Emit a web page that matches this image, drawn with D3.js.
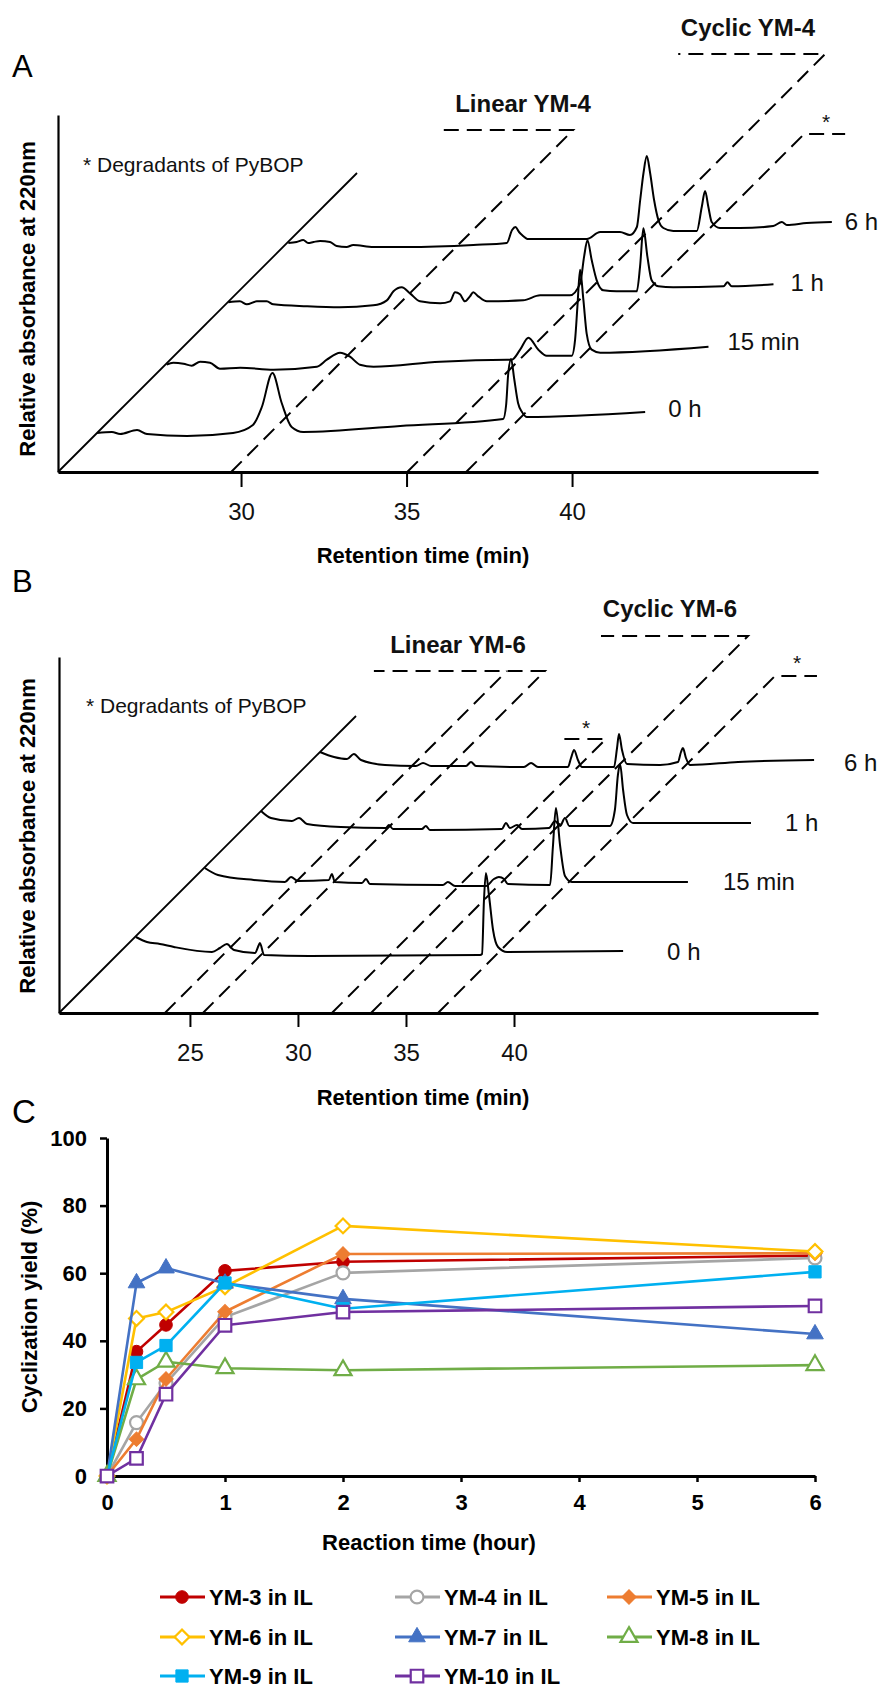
<!DOCTYPE html>
<html><head><meta charset="utf-8">
<script src="https://cdn.jsdelivr.net/npm/d3@7"></script>
<style>
body{margin:0;background:#fff;}
svg{display:block;font-family:"Liberation Sans",Arial,Helvetica,sans-serif;}
</style></head><body>
<svg id="chart" width="882" height="1691"></svg>
<script>
// ---------------- DATA ----------------
// Panel A: HPLC traces of YM-4 cyclization, [retention time (min), relative absorbance]
const aSamples = ["0 h", "15 min", "1 h", "6 h"];
const aTrace0h = [[24.47,0],[24.92,1],[25.17,-1],[25.68,3],[25.98,-1],[27.19,-3],[28.58,0],[29.18,8],[29.45,26],[29.77,60],[30.05,30],[30.35,6],[30.70,1],[33.63,7],[36.74,14],[36.83,28],[36.89,58],[36.98,74],[37.07,55],[37.19,30],[37.31,21],[37.46,16],[41.03,21]];
const aTrace15m = [[24.66,5],[24.86,7],[25.17,6],[25.42,4],[25.67,8],[25.97,7],[26.27,1],[26.88,2],[27.89,0],[29.20,3],[29.50,10],[29.90,17],[30.20,13],[30.50,5],[30.91,3],[32.92,8],[34.94,10],[35.09,10],[35.34,20],[35.59,32],[35.89,20],[36.14,14],[36.90,14],[37.00,30],[37.07,63],[37.15,100],[37.25,70],[37.35,36],[37.50,20],[37.76,17],[41.03,23]];
const aTrace1h = [[24.61,4],[24.96,5],[25.17,2],[25.47,5],[25.77,5],[25.97,2],[26.98,0],[27.98,-1],[28.99,1],[29.40,6],[29.60,15],[29.85,19],[30.10,13],[30.40,5],[31.01,3],[31.31,5],[31.46,14],[31.61,12],[31.76,5],[31.91,10],[32.01,14],[32.16,10],[32.42,5],[33.52,6],[34.03,11],[34.93,11],[35.24,23],[35.36,50],[35.46,66],[35.59,46],[35.74,26],[35.94,16],[36.34,15],[36.95,15],[37.05,40],[37.15,78],[37.27,50],[37.40,26],[37.60,20],[38.05,19],[39.57,20],[39.69,24],[39.82,20],[41.08,22]];
const aTrace6h = [[24.51,0],[24.76,1],[24.96,3],[25.11,0],[25.27,1],[25.47,2],[25.77,1],[25.97,-3],[26.27,-4],[26.47,-2],[27.08,-4],[28.09,-4],[30.10,-2],[31.11,0],[31.27,13],[31.37,16],[31.48,11],[31.57,8],[31.76,4],[32.62,4],[33.53,4],[33.93,11],[34.53,11],[34.83,8],[35.04,16],[35.14,43],[35.24,70],[35.34,87],[35.44,70],[35.56,43],[35.69,23],[35.84,15],[36.14,12],[36.85,12],[37.00,36],[37.10,52],[37.20,36],[37.30,21],[37.55,15],[38.16,15],[39.16,17],[39.42,21],[39.57,18],[40.17,20],[40.93,21]];
const aPeakNames = ["Linear YM-4", "Cyclic YM-4", "*"];
const aPeakTimes = [29.70, 35.02, 36.80];
const aTicks = [30, 35, 40];

// Panel B: HPLC traces of YM-6 cyclization
const bSamples = ["0 h", "15 min", "1 h", "6 h"];
const bTrace0h = [[19.63,14],[20.14,9],[20.74,7],[21.39,4],[23.15,-1],[23.52,3],[23.84,7],[24.17,1],[25.14,-2],[25.32,6],[25.37,8],[25.56,-4],[27.64,-5],[35.56,-4],[35.65,-3],[35.74,51],[35.83,78],[35.97,56],[36.16,21],[36.39,4],[36.81,-1],[42.18,0]];
const bTrace15m = [[19.95,21],[20.56,14],[22.22,9],[23.66,7],[23.94,12],[24.26,8],[25.69,9],[25.83,15],[25.97,7],[27.22,6],[27.41,10],[27.59,5],[30.97,4],[31.20,7],[31.53,3],[32.96,3],[33.33,10],[33.56,12],[33.80,10],[33.98,5],[35.93,4],[36.06,42],[36.20,81],[36.39,44],[36.62,13],[36.94,7],[42.31,7]];
const bTrace1h = [[19.68,16],[20.14,9],[21.11,6],[21.44,9],[21.81,3],[23.38,0],[25.46,-1],[25.60,2],[25.79,-2],[27.13,-2],[27.31,1],[27.50,-3],[30.83,-2],[31.02,4],[31.20,-1],[31.53,2],[31.76,-2],[33.01,-1],[33.29,6],[33.52,1],[33.75,9],[33.95,1],[35.83,1],[36.06,17],[36.20,52],[36.30,63],[36.44,37],[36.62,12],[36.90,4],[42.36,4]];
const bTrace6h = [[19.54,13],[20.19,8],[20.79,6],[21.11,11],[21.44,5],[22.55,0],[23.98,-1],[24.31,2],[24.68,-1],[26.30,-1],[26.53,3],[26.76,-1],[28.98,-2],[29.31,2],[29.63,-2],[31.02,-2],[31.16,7],[31.30,15],[31.48,5],[31.67,-2],[33.15,-2],[33.29,17],[33.38,31],[33.52,15],[33.75,1],[35.28,0],[36.11,3],[36.25,13],[36.34,17],[36.48,7],[36.67,0],[38.89,3],[42.41,5]];
const bPeakNames = ["Linear YM-6", "Linear YM-6", "*", "Cyclic YM-6", "*"];
const bPeakTimes = [23.84, 25.60, 31.57, 33.38, 36.48];
const bTicks = [25, 30, 35, 40];

// Panel C: cyclization yield (%) vs reaction time (hour)
const hours = [0, 0.25, 0.5, 1, 2, 6];
const seriesNames = ["YM-3 in IL","YM-4 in IL","YM-5 in IL","YM-6 in IL","YM-7 in IL","YM-8 in IL","YM-9 in IL","YM-10 in IL"];
const ym3  = [0, 36.8, 44.7, 60.7, 63.4, 65.2];
const ym4  = [0, 15.8, 27.5, 47.0, 60.1, 64.5];
const ym5  = [0, 10.9, 28.7, 48.6, 65.7, 65.9];
const ym6  = [0, 46.6, 48.5, 56.0, 74.0, 66.4];
const ym7  = [0, 57.1, 61.5, 57.0, 52.4, 42.0];
const ym8  = [0, 28.6, 33.8, 31.9, 31.3, 32.8];
const ym9  = [0, 33.6, 38.6, 57.1, 49.5, 60.4];
const ym10 = [0, 5.2, 24.2, 44.6, 48.5, 50.3];
const yTicksC = [0, 20, 40, 60, 80, 100];
const xTicksC = [0, 1, 2, 3, 4, 5, 6];

// ---------------- STYLE / LAYOUT ----------------
const FONT = '"Liberation Sans",Arial,Helvetica,sans-serif';
const svg = d3.select("#chart");

const seriesStyle = [
  {color:"#C00000", shape:"circle",   filled:true},
  {color:"#A5A5A5", shape:"circle",   filled:false},
  {color:"#ED7D31", shape:"diamond",  filled:true},
  {color:"#FFC000", shape:"diamond",  filled:false},
  {color:"#4472C4", shape:"triangle", filled:true},
  {color:"#70AD47", shape:"triangle", filled:false},
  {color:"#00B0F0", shape:"square",   filled:true},
  {color:"#7030A0", shape:"square",   filled:false}
];

function drawChrom(cfg) {
  const g = svg.append("g");
  const x = d3.scaleLinear().domain(cfg.xDomain).range([cfg.x0, cfg.x1]);
  const y = d3.scaleLinear().domain([0, cfg.y0 - cfg.yTop]).range([cfg.y0, cfg.yTop]);
  const z = d3.scalePoint().domain(cfg.samples).range(cfg.zRange);

  g.append("text").attr("x", cfg.letterX).attr("y", cfg.letterY)
    .attr("font-size", 31).attr("fill", "#000").text(cfg.letter);

  g.append("g").attr("transform", `translate(${cfg.x0},0)`)
    .call(d3.axisLeft(y).tickValues([]).tickSizeOuter(0))
    .call(s => s.select(".domain").attr("stroke", "#000").attr("stroke-width", 2.2));

  const ax = g.append("g").attr("transform", `translate(0,${cfg.y0})`)
    .call(d3.axisBottom(x).tickValues(cfg.ticks).tickSize(cfg.tickSize).tickSizeOuter(0).tickPadding(cfg.tickPad).tickFormat(d3.format("d")));
  ax.select(".domain").attr("stroke", "#000").attr("stroke-width", 3);
  ax.selectAll(".tick line").attr("stroke", "#000").attr("stroke-width", 2);
  ax.selectAll(".tick text").attr("font-size", 24).attr("font-family", FONT).attr("fill", "#111");

  g.append("line").attr("x1", cfg.x0).attr("y1", cfg.y0)
    .attr("x2", cfg.x0 + cfg.diagLen).attr("y2", cfg.y0 - cfg.diagLen)
    .attr("stroke", "#000").attr("stroke-width", 1.8);

  cfg.peakTimes.forEach((rt, i) => {
    const L = cfg.guides[i];
    const bx = x(rt), by = cfg.y0;
    const tx = bx + L.h, ty = by - L.h;
    let pts = [[bx, by], [tx, ty]];
    if (L.len) pts.push([tx + L.side * L.len, ty]);
    g.append("path").attr("d", d3.line()(pts)).attr("fill", "none")
      .attr("stroke", "#000").attr("stroke-width", 2).attr("stroke-dasharray", "15,8");
    if (L.lx !== undefined) {
      const isStar = cfg.peakNames[i] === "*";
      g.append("text").attr("x", L.lx).attr("y", L.ly).attr("text-anchor", "middle")
        .attr("font-size", isStar ? 21 : 24).attr("font-weight", isStar ? "normal" : "bold")
        .attr("fill", "#111").text(cfg.peakNames[i]);
    }
  });

  cfg.traces.forEach((tr, i) => {
    const off = z(cfg.samples[i]);
    const line = d3.line().curve(d3.curveMonotoneX)
      .x(d => x(d[0]) + off).y(d => y(d[1]) - off);
    g.append("path").datum(tr).attr("d", line).attr("fill", "none")
      .attr("stroke", "#000").attr("stroke-width", 2).attr("stroke-linejoin", "round");
    const last = tr[tr.length - 1];
    g.append("text").attr("x", x(last[0]) + off + cfg.labelGap[i]).attr("y", y(last[1]) - off + cfg.labelDy[i])
      .attr("font-size", 24).attr("fill", "#111").text(cfg.samples[i]);
  });

  g.append("text").attr("x", cfg.noteX).attr("y", cfg.noteY).attr("font-size", 21)
    .attr("fill", "#111").text("* Degradants of PyBOP");

  g.append("text").attr("x", cfg.xTitleX).attr("y", cfg.xTitleY).attr("text-anchor", "middle")
    .attr("font-size", 22).attr("font-weight", "bold").attr("fill", "#000").text("Retention time (min)");
  g.append("text").attr("transform", `translate(${cfg.yTitleX},${cfg.yTitleY}) rotate(-90)`)
    .attr("text-anchor", "middle").attr("font-size", 22).attr("font-weight", "bold")
    .attr("fill", "#000").text("Relative absorbance at 220nm");
}

drawChrom({
  letter: "A", letterX: 12, letterY: 77,
  samples: aSamples, traces: [aTrace0h, aTrace15m, aTrace1h, aTrace6h],
  xDomain: [24.47, 47.43], x0: 58, x1: 818, y0: 472, yTop: 115,
  ticks: aTicks, tickSize: 15, tickPad: 16,
  zRange: [39, 229], diagLen: 299,
  peakNames: aPeakNames, peakTimes: aPeakTimes,
  guides: [
    {h: 342, side: -1, len: 131, lx: 523, ly: 112},
    {h: 418, side: -1, len: 147, lx: 748, ly: 36},
    {h: 338, side: 1, len: 41, lx: 826, ly: 129}
  ],
  labelGap: [23, 19, 17, 13], labelDy: [5, 3, 7, 8],
  noteX: 83, noteY: 172,
  xTitleX: 423, xTitleY: 563, yTitleX: 35, yTitleY: 299
});

drawChrom({
  letter: "B", letterX: 12, letterY: 592,
  samples: bSamples, traces: [bTrace0h, bTrace15m, bTrace1h, bTrace6h],
  xDomain: [18.94, 54.07], x0: 59, x1: 818, y0: 1013, yTop: 657,
  ticks: bTicks, tickSize: 14, tickPad: 17,
  zRange: [62, 248], diagLen: 297,
  peakNames: bPeakNames, peakTimes: bPeakTimes,
  guides: [
    {h: 342, side: -1, len: 0},
    {h: 342, side: -1, len: 171, lx: 458, ly: 653},
    {h: 274, side: -1, len: 45, lx: 586, ly: 735},
    {h: 377, side: -1, len: 147, lx: 670, ly: 617},
    {h: 337, side: 1, len: 42, lx: 797, ly: 670}
  ],
  labelGap: [44, 35, 34, 30], labelDy: [9, 8, 8, 11],
  noteX: 86, noteY: 713,
  xTitleX: 423, xTitleY: 1105, yTitleX: 35, yTitleY: 836
});

// ---------------- PANEL C ----------------
(function () {
  const g = svg.append("g");
  const x = d3.scaleLinear().domain([0, 6]).range([107, 815]);
  const y = d3.scaleLinear().domain([0, 100]).range([1476, 1138]);

  g.append("text").attr("x", 12).attr("y", 1123).attr("font-size", 33).attr("fill", "#000").text("C");

  const gx = g.append("g").attr("transform", `translate(0,${y(0)})`)
    .call(d3.axisBottom(x).tickValues(xTicksC).tickSize(6).tickPadding(12).tickSizeOuter(0).tickFormat(d3.format("d")));
  const gy = g.append("g").attr("transform", `translate(${x(0)},0)`)
    .call(d3.axisLeft(y).tickValues(yTicksC).tickSize(7).tickPadding(13).tickSizeOuter(0).tickFormat(d3.format("d")));
  [gx, gy].forEach(a => {
    a.select(".domain").attr("stroke", "#000").attr("stroke-width", 3);
    a.selectAll(".tick line").attr("stroke", "#000").attr("stroke-width", 2.5);
    a.selectAll(".tick text").attr("font-size", 22).attr("font-weight", "bold")
      .attr("font-family", FONT).attr("fill", "#000");
  });

  g.append("text").attr("x", 429).attr("y", 1550).attr("text-anchor", "middle")
    .attr("font-size", 22).attr("font-weight", "bold").text("Reaction time (hour)");
  g.append("text").attr("transform", "translate(37,1307) rotate(-90)").attr("text-anchor", "middle")
    .attr("font-size", 22).attr("font-weight", "bold").text("Cyclization yield (%)");

  const all = [ym3, ym4, ym5, ym6, ym7, ym8, ym9, ym10];
  const symType = {circle: d3.symbolCircle, diamond: d3.symbolSquare, triangle: d3.symbolTriangle, square: d3.symbolSquare};
  const symSize = {circle: 125, diamond: 105, triangle: 120, square: 150};
  function marker(sel, st) {
    sel.attr("d", d3.symbol().type(symType[st.shape]).size(symSize[st.shape] * (st.filled ? 1 : 1.05)))
      .attr("fill", st.filled ? st.color : "#fff")
      .attr("stroke", st.color).attr("stroke-width", st.filled ? 1 : 2.2);
  }
  const line = d3.line().x((d, i) => x(hours[i])).y(d => y(d));
  all.forEach((vals, k) => {
    const st = seriesStyle[k];
    const sg = g.append("g");
    sg.append("path").attr("d", line(vals)).attr("fill", "none").attr("stroke", st.color)
      .attr("stroke-width", 2.6).attr("stroke-linejoin", "round");
    sg.selectAll("path.m").data(vals).join("path").attr("class", "m")
      .attr("transform", (d, i) => `translate(${x(hours[i])},${y(d)})` + (st.shape === "diamond" ? " rotate(45)" : ""))
      .call(marker, st);
  });

  const colX = [160, 395, 607], rowY = [1597, 1637, 1676];
  seriesNames.forEach((name, k) => {
    const st = seriesStyle[k];
    const lx = colX[k % 3], ly = rowY[Math.floor(k / 3)];
    const lg = g.append("g");
    lg.append("line").attr("x1", lx).attr("x2", lx + 45).attr("y1", ly).attr("y2", ly)
      .attr("stroke", st.color).attr("stroke-width", 3);
    lg.append("path").attr("transform", `translate(${lx + 22},${ly})` + (st.shape === "diamond" ? " rotate(45)" : ""))
      .call(marker, st);
    lg.append("text").attr("x", lx + 49).attr("y", ly + 8).attr("font-size", 22)
      .attr("font-weight", "bold").attr("fill", "#000").text(name);
  });
})();
</script></body></html>
